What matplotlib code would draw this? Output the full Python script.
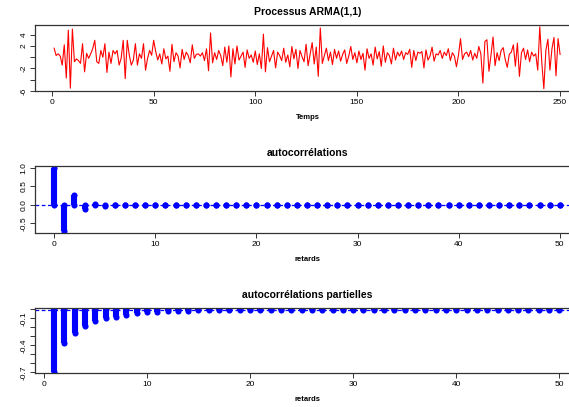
import matplotlib
matplotlib.use('Agg')
import matplotlib.pyplot as plt
import numpy as np

plt.rcParams['font.family'] = ['Liberation Sans', 'DejaVu Sans']

# serie ARMA(1,1) (t = 1..250)
serie = [
    1.6, 0.3, 0.6, 0.2, -1.4, 2.2, -3.7, 4.8, -5.5, 5.0,
    -0.8, -0.3, -0.6, -1.1, 2.4, -2.6, 0.7, -0.2, 0.6, 1.5,
    3.0, -0.8, -1.1, 1.2, 0.0, 2.4, -2.7, 0.9, -1.1, 1.2,
    0.6, 1.2, -1.4, -0.2, 3.0, -3.8, 3.0, 0.35, -1.4, -0.5,
    2.4, -1.4, 0.6, -0.2, 2.4, -2.3, -0.2, 1.2, 0.35, 3.0,
    1.0, -0.5, 0.6, -1.2, 1.5, -0.3, 0.2, -2.5, 2.3, -0.8,
    0.8, 0.2, -1.9, 1.4, -0.4, 0.9, 0.3, -1.0, 2.2, -0.2,
    0.5, 0.6, 0.2, 0.8, -0.6, 1.5, -2.4, 4.3, -1.0, 0.8,
    -0.4, 1.2, 0.3, -1.5, 1.8, -0.9, 2.0, -3.5, 1.5, -1.2,
    2.0, -0.5, 0.2, 0.9, -1.8, 1.3, -0.2, 0.4, -0.9, 1.1,
    -1.3, 0.6, -2.0, 4.1, -2.6, 1.7, -0.8, 0.2, 1.2, -1.9,
    0.9, 0.3, -0.6, 1.6, -0.9, 0.4, -1.7, 1.9, -0.3, 1.4,
    -2.0, 1.2, 0.1, -0.8, 2.3, -1.5, 0.6, 2.6, -1.2, 1.8,
    -3.4, 5.2, -1.1, 0.3, 1.6, -0.6, 0.9, -1.3, 1.4, -0.2,
    1.1, -0.7, 0.5, 1.3, -1.1, 0.2, 1.9, -0.4, 0.8, -1.0,
    1.1, -0.4, 0.7, -2.3, 1.5, -0.2, 0.6, -1.4, 1.8, -0.3,
    1.0, -1.6, 2.0, -0.9, 0.8, 0.3, -1.2, 1.6, -0.5, 0.9,
    0.2, 1.1, -0.4, 0.8, 0.5, 1.4, -1.8, 1.2, -0.6, 0.9,
    0.7, 1.0, -1.9, 1.3, -0.5, 0.2, 1.8, -0.7, 0.6, 0.4,
    1.2, -0.2, 0.9, 0.3, 1.5, -0.6, 0.8, 0.2, -1.7, 0.4,
    3.3, -0.4, 0.6, 0.9, 0.1, 1.2, -0.5, 0.7, -0.2, 1.9,
    0.6, -4.6, 2.8, 3.1, -2.5, 0.4, 3.6, -1.5, 0.8, -0.6,
    1.2, 1.7, -0.4, -1.8, 0.5, 0.9, 2.2, -1.6, 2.5, -3.4,
    0.8, 1.6, -0.4, 1.3, -0.8, 0.9, 0.2, 0.6, -2.3, 5.4,
    -0.9, -5.6, 1.2, 3.2, -2.3, 1.5, 3.5, -3.3, 3.3, 0.5,
]

# autocorrelations (retards 0..50)
acf_vals = [1.0, -0.70, 0.27, -0.11, 0.04, -0.017, 0.007, -0.003] + [0.0] * 43

# autocorrelations partielles (retards 1..50)
pacf_vals = [-0.70, -0.37, -0.26, -0.19, -0.135, -0.10, -0.08, -0.06, -0.045, -0.035,
             -0.03, -0.022, -0.018, -0.015, -0.013, -0.012, -0.011, -0.01, -0.009, -0.009,
             -0.008, -0.008, -0.007, -0.007, -0.007, -0.006, -0.006, -0.006, -0.006, -0.005,
             -0.005, -0.005, -0.005, -0.005, -0.004, -0.004, -0.004, -0.004, -0.004, -0.004,
             -0.004, -0.004, -0.003, -0.003, -0.003, -0.003, -0.003, -0.003, -0.003, -0.003]

W, H = 569, 407
fig = plt.figure(figsize=(W / 100, H / 100), dpi=100)


def box(left, top, right, bottom):
    return [left / W, 1 - bottom / H, (right - left) / W, (bottom - top) / H]


def style(ax):
    for s in ax.spines.values():
        s.set_color('#333333')
        s.set_linewidth(0.9)
    ax.tick_params(direction='out', length=3.5, width=0.7, colors='#333333',
                   labelsize=6, labelcolor='black', pad=2)


def stems(ax, lags, vals):
    lw = 4.4
    ax.vlines(lags, 0, vals, colors='blue', linewidth=lw)
    ax.plot(lags, vals, 'o', color='blue', markersize=lw, markeredgewidth=0)
    ax.plot(lags, np.zeros(len(lags)), 'o', color='blue', markersize=lw, markeredgewidth=0)


# serie
ax1 = fig.add_axes(box(35, 25, 580, 91))
t = np.arange(1, len(serie) + 1)
ax1.plot(t, serie, color='red', linewidth=0.8)
ax1.set_xlim(-8.4, 259.8)
ax1.set_ylim(-5.96, 5.72)
ax1.set_xticks([0, 50, 100, 150, 200, 250])
ax1.set_yticks([-6, -4, -2, 0, 2, 4])
ax1.set_yticklabels(['-6', '', '-2', '', '2', '4'], rotation=90, va='center')
ax1.set_title('Processus ARMA(1,1)', fontsize=7.5, fontweight='bold', pad=7)
ax1.set_xlabel('Temps', fontsize=5.5, fontweight='bold', labelpad=6)
style(ax1)

# acf
ax2 = fig.add_axes(box(35, 166, 580, 233))
lags = np.arange(0, len(acf_vals))
ax2.axhline(0, color='blue', linestyle=(0, (3, 2)), linewidth=0.9, zorder=1)
stems(ax2, lags, acf_vals)
ax2.set_xlim(-1.9, 52.0)
ax2.set_ylim(-0.757, 1.054)
ax2.set_xticks([0, 10, 20, 30, 40, 50])
ax2.set_yticks([-0.5, 0.0, 0.5, 1.0])
ax2.set_yticklabels(['-0.5', '0.0', '0.5', '1.0'], rotation=90, va='center')
ax2.set_title('autocorrélations', fontsize=7.5, fontweight='bold', pad=7)
ax2.set_xlabel('retards', fontsize=5.5, fontweight='bold', labelpad=6)
style(ax2)

# pacf
ax3 = fig.add_axes(box(35, 307.7, 580, 373.3))
plags = np.arange(1, len(pacf_vals) + 1)
ax3.axhline(-0.008, color='blue', linestyle=(0, (3, 2)), linewidth=0.9, zorder=1)
stems(ax3, plags, pacf_vals)
ax3.set_xlim(-0.85, 52.0)
ax3.set_ylim(-0.711, 0.018)
ax3.set_xticks([0, 10, 20, 30, 40, 50])
ax3.set_yticks([-0.7, -0.6, -0.5, -0.4, -0.3, -0.2, -0.1, 0.0])
ax3.set_yticklabels(['-0.7', '', '', '-0.4', '', '', '-0.1', ''], rotation=90, va='center')
ax3.set_title('autocorrélations partielles', fontsize=7.5, fontweight='bold', pad=7)
ax3.set_xlabel('retards', fontsize=5.5, fontweight='bold', labelpad=6)
style(ax3)

fig.savefig('out.png', dpi=100)
